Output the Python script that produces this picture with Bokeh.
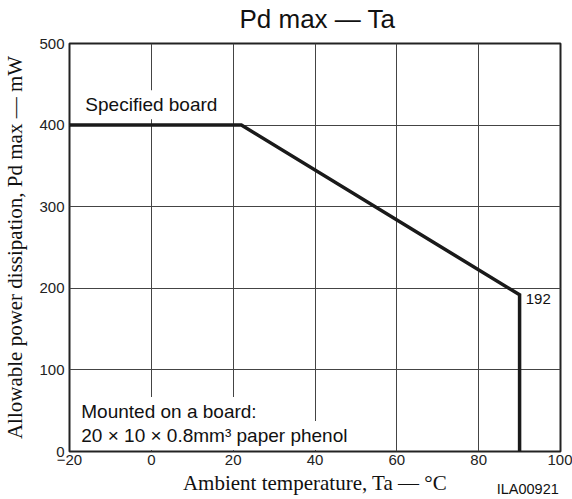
from bokeh.plotting import figure
from bokeh.models import Range1d, FixedTicker, Label, LinearAxis
from bokeh.embed import file_html
from bokeh.resources import INLINE

# Data
ta = [-20, 22, 90, 90]          # ambient temperature, °C
pd_max = [400, 400, 192, 0]     # allowable power dissipation, mW

x_ticks = [-20, 0, 20, 40, 60, 80, 100]
y_ticks = [0, 100, 200, 300, 400, 500]
code_pos = [92]                 # where the drawing code sits on the Ta scale
code_text = "ILA00921"
title_text = "Pd max \u2014 Ta"

SANS = "Liberation Sans"
SERIF = "Liberation Serif"

p = figure(width=572, height=499, output_backend="svg", toolbar_location=None,
           x_range=Range1d(-20, 100), y_range=Range1d(0, 500),
           min_border_left=68, min_border_right=12, min_border_top=43, min_border_bottom=48)

# chart title, placed in the top border
title = Label(x=248, y=25, x_units="screen", y_units="screen", text=title_text,
              text_font=SANS, text_font_size="26px", text_color="#111111",
              text_align="center", text_baseline="middle")
p.add_layout(title, "above")

p.outline_line_color = "#222222"
p.outline_line_width = 2

def style_axis(ax):
    ax.axis_line_color = None
    ax.major_tick_line_color = None
    ax.minor_tick_line_color = None
    ax.major_tick_out = 0
    ax.major_tick_in = 0
    ax.minor_tick_out = 0
    ax.minor_tick_in = 0
    ax.major_label_text_font = SANS
    ax.major_label_text_font_size = "15px"
    ax.major_label_text_color = "#222222"
    ax.axis_label_text_font = SERIF
    ax.axis_label_text_font_style = "normal"
    ax.axis_label_text_color = "#111111"

for ax in (p.xaxis[0], p.yaxis[0]):
    style_axis(ax)

p.xaxis.axis_label_text_font_size = "21px"
p.yaxis.axis_label_text_font_size = "21px"
p.xaxis.ticker = FixedTicker(ticks=x_ticks)
p.yaxis.ticker = FixedTicker(ticks=y_ticks)
p.xaxis.major_label_overrides = {-20: "\u221220"}
p.xaxis.major_label_standoff = 3
p.yaxis.major_label_standoff = 5
p.xaxis.axis_label = "Ambient temperature, Ta \u2014 \u00b0C"
p.yaxis.axis_label = "Allowable power dissipation, Pd max \u2014 mW"
p.xaxis.axis_label_standoff = 3
p.yaxis.axis_label_standoff = 9

# drawing code, set on the same line as the x-axis title
code_axis = LinearAxis(ticker=FixedTicker(ticks=code_pos),
                       major_label_overrides={code_pos[0]: code_text})
style_axis(code_axis)
code_axis.major_label_text_font_size = "14.5px"
code_axis.major_label_text_color = "#111111"
code_axis.major_label_standoff = -17
p.add_layout(code_axis, "below")

p.xgrid.ticker = FixedTicker(ticks=x_ticks)
p.ygrid.ticker = FixedTicker(ticks=y_ticks)
for g in (p.xgrid, p.ygrid):
    g.grid_line_color = "#444444"
    g.grid_line_width = 1
    g.grid_line_alpha = 1.0

p.line(ta, pd_max, line_color="#1a1a1a", line_width=3.5, line_join="miter")

def txt(x, y, s, size="19px", bg=True):
    lab = Label(x=x, y=y, text=s, text_font=SANS, text_font_size=size,
                text_color="#111111", text_baseline="middle", text_align="left")
    if bg:
        lab.background_fill_color = "white"
        lab.background_fill_alpha = 1.0
        lab.padding = 4
    p.add_layout(lab)

txt(-17.1, 425, "Specified board")
txt(-18.1, 49, "Mounted on a board:")
txt(-18.1, 19.5, "20 \u00d7 10 \u00d7 0.8mm\u00b3 paper phenol")
txt(91.5, 187.5, "192", size="15px", bg=False)

open("out.html", "w").write(file_html(p, INLINE))
